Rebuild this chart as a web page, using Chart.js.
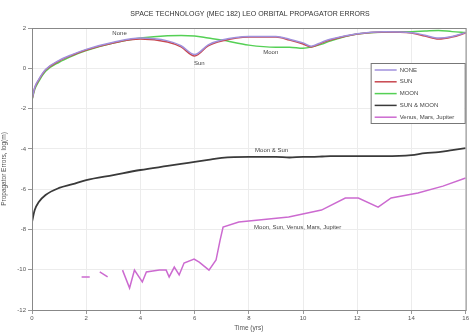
<!DOCTYPE html>
<html>
<head>
<meta charset="utf-8">
<script src="https://cdn.jsdelivr.net/npm/chart.js@4"></script>
<style>
  html, body { margin: 0; padding: 0; background: #fff; }
  #wrap { width: 470px; height: 334px; }
  canvas { filter: blur(0.4px); }
</style>
</head>
<body>
<div id="wrap"><canvas id="errChart" width="470" height="334"></canvas></div>
<script>
// Time axis (shared by the upper curves)
const timeTop = [0, 0.1, 0.25, 0.5, 1, 1.5, 2, 3, 4, 5, 5.5, 6, 6.5, 7, 8, 9, 9.5, 10, 10.3, 10.7, 11, 12, 13, 14, 14.5, 15, 15.5, 16]

// log10 errors
const noneErr = [-1.55, -0.95, -0.55, -0.06, 0.39, 0.69, 0.94, 1.29, 1.5, 1.36, 1.12, 0.68, 1.16, 1.4, 1.58, 1.58, 1.44, 1.26, 1.1, 1.3, 1.44, 1.72, 1.82, 1.77, 1.64, 1.5, 1.58, 1.77]
const sunErr = [-1.57, -0.98, -0.58, -0.09, 0.36, 0.66, 0.91, 1.26, 1.45, 1.3, 1.06, 0.61, 1.11, 1.35, 1.55, 1.55, 1.4, 1.21, 1.06, 1.26, 1.4, 1.7, 1.8, 1.75, 1.6, 1.45, 1.55, 1.75]
const moonErr = [-1.57, -1.05, -0.65, -0.15, 0.3, 0.62, 0.88, 1.25, 1.5, 1.62, 1.63, 1.6, 1.5, 1.4, 1.15, 1.05, 1.05, 1.0, 1.05, 1.2, 1.35, 1.7, 1.8, 1.82, 1.85, 1.88, 1.82, 1.78]
const sunMoonErr = [-7.63, -7.04, -6.64, -6.29, -5.94, -5.75, -5.55, -5.3, -5.05, -4.85, -4.75, -4.65, -4.55, -4.45, -4.4, -4.4, -4.43, -4.4, -4.4, -4.38, -4.36, -4.36, -4.36, -4.31, -4.21, -4.16, -4.06, -3.96]

// Venus, Mars, Jupiter curve (nulls are gaps in the trace)
const planetTime = [1.83, 2.13, 2.3, 2.5, 2.79, 3.0, 3.34, 3.6, 3.78, 4.07, 4.22, 4.7, 4.95, 5.06, 5.25, 5.43, 5.61, 5.98, 6.17, 6.53, 6.79, 6.94, 7.05, 7.63, 8.37, 9.47, 10.68, 11.56, 12.04, 12.77, 13.25, 14.24, 15.16, 16]
const planetErr = [-10.36, -10.36, null, -10.11, -10.36, null, -10.02, -10.91, -10.02, -10.61, -10.11, -10.02, -10.02, -10.36, -9.87, -10.26, -9.67, -9.47, -9.62, -10.02, -9.52, -8.53, -7.88, -7.63, -7.53, -7.38, -7.04, -6.44, -6.44, -6.89, -6.44, -6.19, -5.85, -5.45]

const xTicks = [0, 2, 4, 6, 8, 10, 12, 14, 16]
const yTicks = [2, 0, -2, -4, -6, -8, -10, -12]

const seriesNames = ["NONE", "SUN", "MOON", "SUN & MOON", "Venus, Mars, Jupiter"]
const seriesColors = ["#a090dc", "#c8464e", "#55d055", "#3a3a3a", "#cc6ad0"]

// text written on the curves
const curveLabels = ["None", "Sun", "Moon", "Moon & Sun", "Moon, Sun, Venus, Mars, Jupiter"]
const labelTimes = [3.23, 6.17, 8.81, 8.84, 9.8]
const labelErrs = [1.75, 0.26, 0.81, -4.06, -7.88]

const textGray = "#555"

function toPoints(xs, ys) {
  return xs.map((x, i) => ({ x: x, y: ys[i] }))
}

const allData = [
  toPoints(timeTop, noneErr),
  toPoints(timeTop, sunErr),
  toPoints(timeTop, moonErr),
  toPoints(timeTop, sunMoonErr),
  toPoints(planetTime, planetErr),
]

// Title, curve labels and legend box drawn over the plot
const overlayPlugin = {
  id: "overlay",
  afterDraw(chart) {
    const ctx = chart.ctx
    const xs = chart.scales.x
    const ys = chart.scales.y
    const area = chart.chartArea
    ctx.save()

    // title
    ctx.fillStyle = "#333"
    ctx.font = "7px 'Liberation Sans', Arial, sans-serif"
    ctx.textAlign = "center"
    ctx.textBaseline = "middle"
    ctx.fillText("SPACE TECHNOLOGY (MEC 182) LEO ORBITAL PROPAGATOR ERRORS", 250, 14)

    // labels on the curves
    ctx.fillStyle = "#444"
    ctx.font = "6px 'Liberation Sans', Arial, sans-serif"
    curveLabels.forEach((txt, i) => {
      ctx.fillText(txt, xs.getPixelForValue(labelTimes[i]), ys.getPixelForValue(labelErrs[i]))
    })

    // legend
    const bx = area.right - 95
    const by = area.top + 35
    const bw = 94
    const bh = 60
    ctx.fillStyle = "#fff"
    ctx.fillRect(bx, by, bw, bh)
    ctx.strokeStyle = "#777"
    ctx.lineWidth = 1
    ctx.strokeRect(bx + 0.5, by + 0.5, bw, bh)
    ctx.textAlign = "left"
    ctx.font = "6px 'Liberation Sans', Arial, sans-serif"
    seriesNames.forEach((name, i) => {
      const ry = by + 7 + i * 11.8
      ctx.strokeStyle = seriesColors[i]
      ctx.lineWidth = 1.5
      ctx.beginPath()
      ctx.moveTo(bx + 4, ry)
      ctx.lineTo(bx + 26, ry)
      ctx.stroke()
      ctx.fillStyle = "#444"
      ctx.fillText(name, bx + 29, ry)
    })

    // axes box
    ctx.strokeStyle = "#888"
    ctx.lineWidth = 1
    ctx.strokeRect(area.left + 0.5, area.top + 0.5, area.right - area.left, area.bottom - area.top)
    ctx.restore()
  },
}

const chart = new Chart(document.getElementById("errChart"), {
  type: "line",
  data: {
    datasets: allData.map((pts, i) => ({
      label: seriesNames[i],
      data: pts,
      borderColor: seriesColors[i],
      backgroundColor: "transparent",
      borderWidth: i === 3 ? 1.8 : 1.5,
      pointRadius: 0,
      // the planet trace is jagged, the others are smooth
      tension: i === 4 ? 0 : 0.4,
      cubicInterpolationMode: i === 4 ? "default" : "monotone",
      spanGaps: false,
    })),
  },
  options: {
    responsive: false,
    animation: false,
    layout: { padding: { top: 28, right: 2, left: 0, bottom: 0 } },
    plugins: {
      legend: { display: false },
      tooltip: { enabled: false },
    },
    scales: {
      x: {
        type: "linear",
        min: 0,
        max: 16,
        afterBuildTicks: (scale) => { scale.ticks = xTicks.map((v) => ({ value: v })) },
        afterFit: (scale) => { scale.height = 24 },
        grid: { color: "#ececec", tickLength: 4, tickColor: "#999" },
        border: { color: "#888" },
        ticks: { color: textGray, font: { size: 6 }, padding: 1 },
        title: { display: true, text: "Time (yrs)", color: textGray, font: { size: 6.5 }, padding: { top: 0, bottom: 2 } },
      },
      y: {
        type: "linear",
        min: -12,
        max: 2,
        afterBuildTicks: (scale) => { scale.ticks = yTicks.map((v) => ({ value: v })) },
        afterFit: (scale) => { scale.width = 32 },
        grid: { color: "#ececec", tickLength: 4, tickColor: "#999" },
        border: { color: "#888" },
        ticks: { color: textGray, font: { size: 6 }, padding: 2 },
        title: { display: true, text: "Propagator Errors, log(m)", color: textGray, font: { size: 6.5 }, padding: { top: 0, bottom: 2 } },
      },
    },
  },
  plugins: [overlayPlugin],
})
</script>
</body>
</html>
